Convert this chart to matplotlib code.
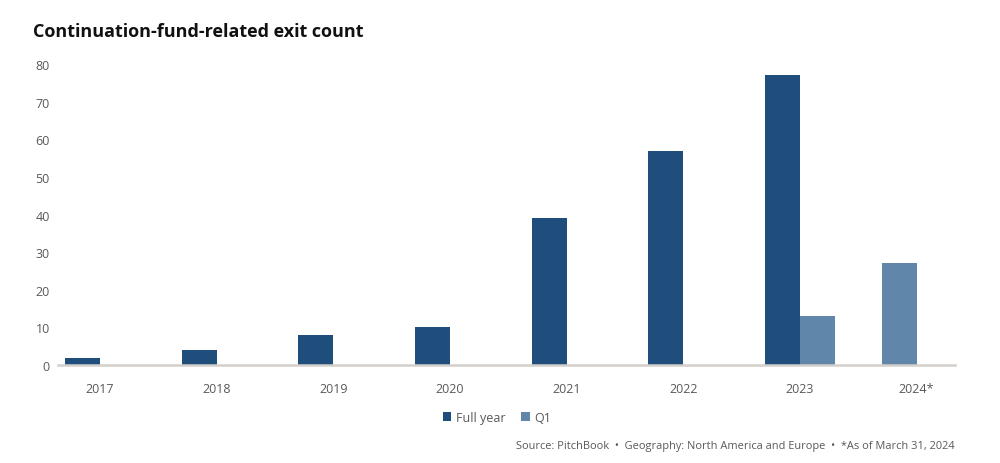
import matplotlib.pyplot as plt
import numpy as np

years = ['2017', '2018', '2019', '2020', '2021', '2022', '2023', '2024*']
full_year = [2, 4, 8, 10, 39, 57, 77, None]
q1 = [None, None, None, None, None, None, 13, 27]

dark = '#1f4e7d'
light = '#6087a9'
grey = '#595959'

plt.rcParams['font.family'] = ['Open Sans', 'DejaVu Sans']

fig = plt.figure(figsize=(10, 4.64), dpi=100)
ax = fig.add_axes([0.058, 0.211, 0.897, 0.649])

x = np.arange(len(years))
w = 0.3
fx = [i for i, v in zip(x, full_year) if v is not None]
fv = [v for v in full_year if v is not None]
# Q1 bar sits in the right slot next to a full-year bar, else in the left slot
qx = [i + (w / 2 if f is not None else -w / 2)
      for i, v, f in zip(x, q1, full_year) if v is not None]
qv = [v for v in q1 if v is not None]
ax.bar(np.array(fx) - w / 2, fv, width=w, color=dark, label='Full year')
ax.bar(qx, qv, width=w, color=light, label='Q1')

ax.set_xlim(-0.36, 7.33)
ax.set_ylim(0, 80)
ax.set_yticks(range(0, 81, 10))
ax.set_xticks(x)
ax.set_xticklabels(years)
ax.tick_params(axis='both', length=0, labelsize=9, colors=grey)
ax.tick_params(axis='x', pad=12)
ax.tick_params(axis='y', pad=6)
for s in ['top', 'right', 'left']:
    ax.spines[s].set_visible(False)
ax.spines['bottom'].set_color('#d3cfcb')
ax.spines['bottom'].set_linewidth(1.8)

fig.text(0.033, 0.93, 'Continuation-fund-related exit count', fontsize=13,
         fontweight='bold', color='#111111', va='center')

fig.legend(loc='center', bbox_to_anchor=(0.497, 0.098), ncol=2, frameon=False,
           fontsize=9, handlelength=0.7, handleheight=0.7, handletextpad=0.4,
           columnspacing=1.2, labelcolor=grey)

fig.text(0.955, 0.037, 'Source: PitchBook  •  Geography: North America and Europe  •  *As of March 31, 2024',
         fontsize=7.9, color=grey, ha='right', va='center')

fig.savefig('out.png', dpi=100)
